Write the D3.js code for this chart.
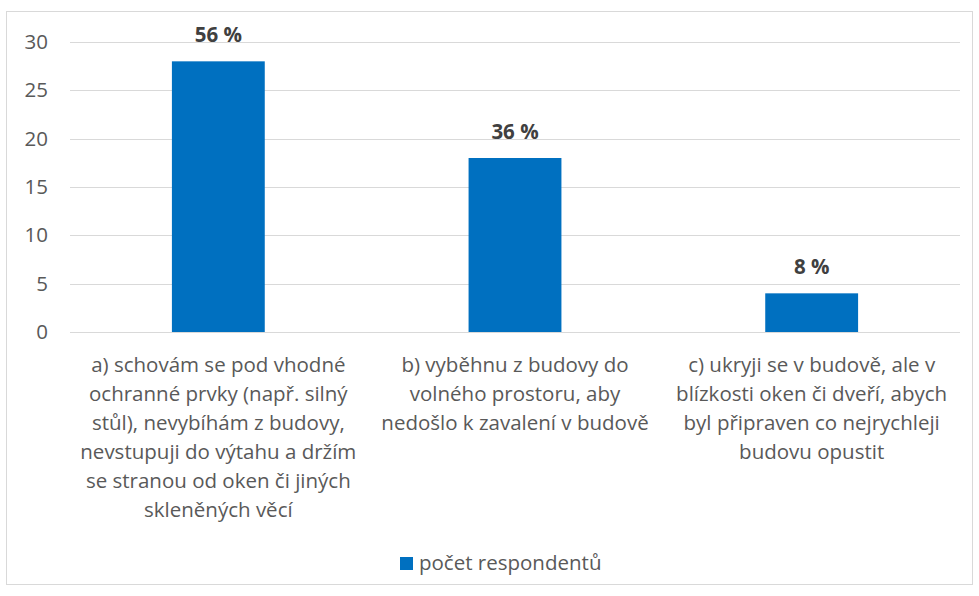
<!DOCTYPE html>
<html>
<head>
<meta charset="utf-8">
<script src="https://cdn.jsdelivr.net/npm/d3@7"></script>
<style>
    body { margin: 0; background: #fff; }
    svg text { font-family: "Open Sans", sans-serif; }
</style>
</head>
<body>
<div id="chart"></div>
<script>
'use strict';

// data
var categories = [
    ['a) schovám se pod vhodné', 'ochranné prvky (např. silný', 'stůl), nevybíhám z budovy,',
     'nevstupuji do výtahu a držím', 'se stranou od oken či jiných', 'skleněných věcí'],
    ['b) vyběhnu z budovy do', 'volného prostoru, aby', 'nedošlo k zavalení v budově'],
    ['c) ukryji se v budově, ale v', 'blízkosti oken či dveří, abych', 'byl připraven co nejrychleji',
     'budovu opustit']
];
var values = [28, 18, 4];
var percentLabels = ['56 %', '36 %', '8 %'];
var yTicks = [0, 5, 10, 15, 20, 25, 30];
var seriesName = 'počet respondentů';

var width = 979,
    height = 596,
    plot = { left: 70, right: 960, top: 42, bottom: 332 },
    barColor = '#0070C0',
    gridColor = '#d9d9d9',
    textColor = '#595959',
    fontSize = '20.5px';

var svg = d3.select('#chart').append('svg')
            .attr('width', width)
            .attr('height', height);

// chart border
svg.append('rect')
   .attr('x', 6.5).attr('y', 11.5)
   .attr('width', 966).attr('height', 573)
   .attr('fill', '#fff')
   .attr('stroke', gridColor)
   .attr('stroke-width', 1);

var x = d3.scaleBand()
          .domain(d3.range(categories.length))
          .range([plot.left, plot.right])
          .paddingInner(0.687)
          .paddingOuter(0.3435);

var y = d3.scaleLinear()
          .domain([0, 30])
          .range([plot.bottom, plot.top]);

// gridlines
svg.append('g')
   .selectAll('line')
   .data(yTicks)
   .enter()
   .append('line')
   .attr('x1', plot.left).attr('x2', plot.right)
   .attr('y1', function (d) { return Math.round(y(d)) + 0.5; })
   .attr('y2', function (d) { return Math.round(y(d)) + 0.5; })
   .attr('stroke', gridColor)
   .attr('stroke-width', 1);

// y axis labels
var yAxis = d3.axisLeft(y).tickValues(yTicks).tickSize(0).tickPadding(22);
var gy = svg.append('g')
            .attr('transform', 'translate(' + plot.left + ',0)')
            .call(yAxis);
gy.select('.domain').remove();
gy.selectAll('text')
  .attr('fill', textColor)
  .style('font-size', fontSize)
  .style('font-family', '"Open Sans", sans-serif');

// bars
svg.append('g')
   .selectAll('rect')
   .data(values)
   .enter()
   .append('rect')
   .attr('x', function (d, i) { return x(i); })
   .attr('y', function (d) { return y(d); })
   .attr('width', x.bandwidth())
   .attr('height', function (d) { return y(0) - y(d); })
   .attr('fill', barColor);

// data labels
svg.append('g')
   .selectAll('text')
   .data(values)
   .enter()
   .append('text')
   .attr('x', function (d, i) { return x(i) + x.bandwidth() / 2; })
   .attr('y', function (d) { return y(d) - 19; })
   .attr('text-anchor', 'middle')
   .attr('fill', '#404040')
   .style('font-size', fontSize)
   .style('font-weight', 'bold')
   .text(function (d, i) { return percentLabels[i]; });

// category labels
var lineHeight = 29;
svg.append('g')
   .selectAll('text')
   .data(categories)
   .enter()
   .append('text')
   .attr('text-anchor', 'middle')
   .attr('fill', textColor)
   .style('font-size', fontSize)
   .each(function (lines, i) {
       var cx = x(i) + x.bandwidth() / 2;
       d3.select(this).selectAll('tspan')
         .data(lines)
         .enter()
         .append('tspan')
         .attr('x', cx)
         .attr('y', function (d, k) { return 372 + k * lineHeight; })
         .text(function (d) { return d; });
   });

// legend
var legend = svg.append('g').attr('transform', 'translate(400,557)');
legend.append('rect')
      .attr('width', 13).attr('height', 13)
      .attr('fill', barColor);
legend.append('text')
      .attr('x', 19).attr('y', 13)
      .attr('fill', textColor)
      .style('font-size', fontSize)
      .text(seriesName);
</script>
</body>
</html>
